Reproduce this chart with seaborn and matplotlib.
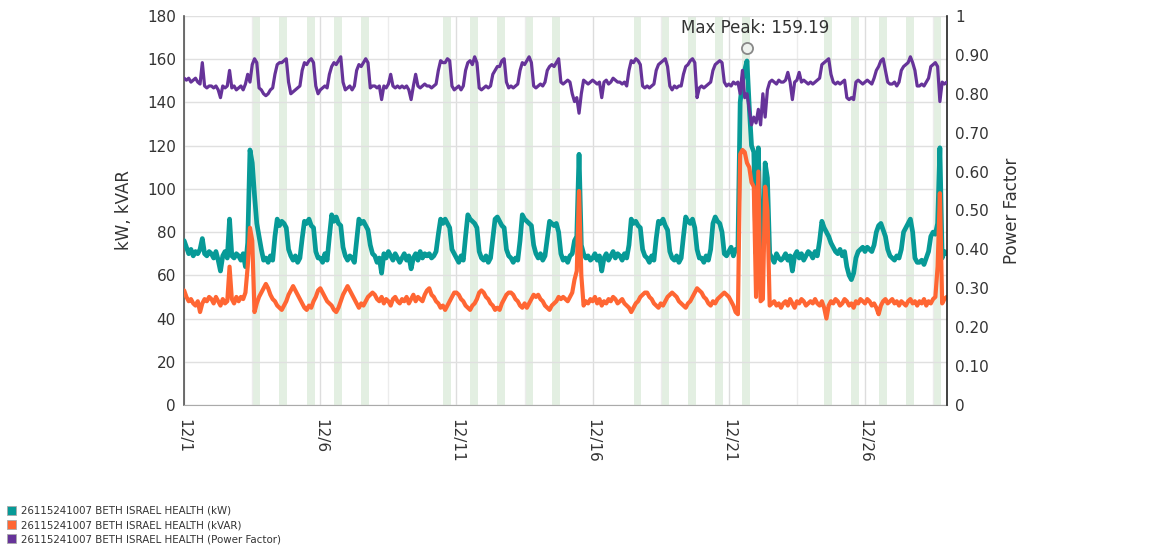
import numpy as np
import pandas as pd
import matplotlib
matplotlib.use('Agg')
import matplotlib.pyplot as plt
import matplotlib.dates as mdates
from matplotlib.patches import Patch
from matplotlib.transforms import offset_copy
import seaborn as sns

# 2-hourly readings, one row per day (12/1 .. 12/28) plus the closing value
kw = [
    76, 73, 70, 72, 69, 71, 70, 72, 77, 70, 69, 71,
    70, 68, 71, 67, 62, 69, 71, 68, 86, 69, 68, 70,
    69, 67, 70, 64, 75, 118, 112, 97, 84, 78, 72, 67,
    68, 66, 69, 67, 78, 86, 83, 85, 84, 82, 72, 69,
    67, 69, 66, 68, 77, 85, 84, 86, 83, 82, 71, 68,
    68, 66, 70, 67, 78, 88, 85, 87, 84, 83, 73, 69,
    67, 69, 68, 66, 76, 86, 84, 85, 83, 81, 74, 70,
    69, 66, 68, 61, 70, 68, 71, 69, 67, 70, 68, 66,
    68, 70, 67, 69, 63, 68, 70, 67, 71, 68, 70, 69,
    70, 68, 69, 71, 79, 86, 84, 86, 84, 82, 72, 70,
    68, 66, 69, 67, 78, 88, 86, 85, 84, 82, 71, 68,
    67, 69, 66, 68, 77, 86, 87, 85, 83, 82, 72, 69,
    68, 66, 68, 67, 76, 88, 86, 85, 84, 83, 74, 70,
    68, 70, 67, 69, 77, 85, 84, 83, 84, 80, 70, 67,
    68, 66, 69, 70, 76, 78, 116, 74, 70, 68, 69, 67,
    68, 70, 67, 69, 62, 68, 70, 67, 69, 71, 68, 70,
    69, 67, 70, 68, 74, 86, 84, 85, 83, 82, 72, 69,
    68, 66, 69, 67, 77, 85, 84, 86, 83, 81, 71, 68,
    67, 69, 66, 68, 78, 87, 85, 84, 86, 82, 72, 68,
    68, 66, 69, 67, 72, 84, 87, 85, 84, 80, 70, 69,
    71, 73, 69, 72, 72, 140, 150, 155, 159.19, 138, 120, 117,
    70, 119, 72, 71, 112, 105, 70, 68, 66, 70, 68, 67,
    68, 70, 67, 69, 62, 69, 71, 68, 70, 67, 69, 71,
    70, 68, 71, 69, 76, 85, 82, 80, 78, 75, 73, 71,
    70, 72, 69, 71, 64, 60, 58, 61, 68, 71, 72, 73,
    71, 73, 72, 71, 74, 80, 83, 84, 81, 78, 72, 69,
    68, 67, 69, 68, 72, 80, 82, 84, 86, 80, 68, 66,
    66, 67, 65, 68, 71, 78, 80, 79, 84, 119, 68, 71,
    70,
]

kvar = [
    53, 50, 48, 49, 47, 46, 48, 43, 47, 49, 48, 50,
    49, 47, 50, 48, 46, 49, 47, 48, 64, 49, 47, 50,
    48, 50, 49, 52, 64, 82, 76, 43, 47, 50, 52, 54,
    56, 54, 51, 49, 48, 46, 45, 44, 46, 48, 51, 53,
    55, 53, 51, 49, 47, 45, 44, 46, 45, 48, 50, 53,
    54, 52, 50, 48, 47, 46, 44, 43, 45, 48, 51, 53,
    55, 53, 51, 49, 47, 45, 47, 46, 48, 50, 51, 52,
    51, 49, 48, 50, 47, 49, 48, 46, 49, 50, 48, 47,
    49, 48, 50, 47, 49, 51, 48, 50, 49, 48, 51, 53,
    54, 51, 50, 48, 47, 45, 46, 44, 46, 48, 50, 52,
    52, 51, 49, 48, 46, 45, 44, 46, 47, 49, 52, 53,
    52, 50, 49, 47, 46, 44, 45, 44, 47, 49, 51, 52,
    52, 51, 49, 48, 46, 45, 47, 45, 47, 49, 51, 50,
    51, 49, 48, 46, 45, 44, 46, 47, 48, 50, 49, 50,
    49, 48, 50, 52, 58, 62, 99, 60, 46, 48, 47, 49,
    48, 50, 47, 49, 46, 48, 47, 49, 48, 50, 49, 47,
    48, 49, 47, 46, 45, 43, 45, 47, 48, 50, 51, 52,
    52, 50, 49, 47, 46, 45, 47, 46, 48, 50, 51, 52,
    51, 50, 48, 47, 46, 45, 47, 48, 50, 52, 54, 53,
    52, 50, 49, 47, 46, 48, 47, 49, 50, 51, 52, 51,
    50, 48, 46, 43, 42, 116, 118, 117, 112, 110, 103, 101,
    50, 108, 48, 49, 101, 90, 46, 47, 48, 46, 47, 45,
    47, 48, 46, 49, 47, 45, 48, 47, 49, 48, 46, 47,
    48, 47, 49, 47, 46, 48, 45, 40, 46, 48, 47, 49,
    48, 46, 47, 49, 48, 46, 47, 45, 48, 47, 49, 48,
    47, 49, 48, 46, 47, 45, 42, 46, 48, 49, 47, 48,
    49, 47, 48, 46, 48, 47, 46, 48, 49, 47, 48, 46,
    48, 47, 49, 46, 48, 47, 49, 50, 64, 98, 47, 49,
    50,
]

power_factor = [
    0.84, 0.835, 0.84, 0.83, 0.835, 0.84, 0.83, 0.825, 0.88, 0.82, 0.815, 0.82,
    0.82, 0.815, 0.82, 0.81, 0.79, 0.82, 0.815, 0.82, 0.86, 0.815, 0.82, 0.81,
    0.815, 0.82, 0.81, 0.825, 0.85, 0.83, 0.875, 0.89, 0.88, 0.815, 0.81, 0.80,
    0.795, 0.80, 0.81, 0.815, 0.85, 0.875, 0.88, 0.88, 0.885, 0.89, 0.83, 0.80,
    0.805, 0.81, 0.815, 0.82, 0.86, 0.88, 0.875, 0.885, 0.89, 0.88, 0.82, 0.80,
    0.81, 0.815, 0.82, 0.815, 0.85, 0.87, 0.88, 0.875, 0.885, 0.895, 0.83, 0.81,
    0.815, 0.82, 0.81, 0.82, 0.86, 0.875, 0.87, 0.88, 0.89, 0.88, 0.815, 0.82,
    0.82, 0.815, 0.82, 0.785, 0.82, 0.815, 0.825, 0.85, 0.82, 0.815, 0.82, 0.815,
    0.82, 0.815, 0.82, 0.81, 0.785, 0.82, 0.85, 0.82, 0.815, 0.82, 0.825, 0.82,
    0.82, 0.815, 0.82, 0.825, 0.86, 0.885, 0.88, 0.88, 0.89, 0.885, 0.82, 0.81,
    0.815, 0.82, 0.81, 0.82, 0.86, 0.88, 0.885, 0.875, 0.895, 0.88, 0.815, 0.81,
    0.815, 0.82, 0.815, 0.82, 0.85, 0.86, 0.87, 0.87, 0.885, 0.89, 0.83, 0.815,
    0.82, 0.815, 0.82, 0.825, 0.86, 0.88, 0.875, 0.885, 0.895, 0.88, 0.82, 0.815,
    0.82, 0.825, 0.82, 0.83, 0.86, 0.87, 0.875, 0.87, 0.88, 0.89, 0.83, 0.825,
    0.83, 0.835, 0.83, 0.80, 0.78, 0.79, 0.75, 0.80, 0.835, 0.83, 0.825, 0.83,
    0.835, 0.83, 0.825, 0.83, 0.79, 0.83, 0.835, 0.825, 0.83, 0.84, 0.835, 0.83,
    0.83, 0.825, 0.83, 0.82, 0.86, 0.885, 0.88, 0.89, 0.885, 0.875, 0.82, 0.815,
    0.82, 0.815, 0.82, 0.825, 0.86, 0.875, 0.88, 0.885, 0.89, 0.87, 0.82, 0.81,
    0.82, 0.815, 0.82, 0.82, 0.85, 0.87, 0.875, 0.885, 0.89, 0.88, 0.79, 0.815,
    0.82, 0.815, 0.82, 0.825, 0.83, 0.86, 0.875, 0.88, 0.885, 0.88, 0.83, 0.82,
    0.825, 0.82, 0.83, 0.825, 0.83, 0.80, 0.86, 0.79, 0.80, 0.76, 0.72, 0.74,
    0.725, 0.76, 0.72, 0.80, 0.74, 0.81, 0.83, 0.835, 0.83, 0.825, 0.835, 0.83,
    0.83, 0.835, 0.855, 0.83, 0.785, 0.83, 0.835, 0.855, 0.83, 0.835, 0.83, 0.825,
    0.83, 0.825, 0.83, 0.835, 0.84, 0.875, 0.88, 0.885, 0.89, 0.85, 0.83, 0.825,
    0.83, 0.825, 0.83, 0.835, 0.79, 0.785, 0.79, 0.785, 0.83, 0.835, 0.83, 0.825,
    0.83, 0.835, 0.83, 0.825, 0.84, 0.86, 0.87, 0.885, 0.89, 0.86, 0.83, 0.825,
    0.825, 0.83, 0.82, 0.83, 0.86, 0.87, 0.875, 0.88, 0.895, 0.88, 0.86, 0.82,
    0.82, 0.825, 0.82, 0.83, 0.84, 0.87, 0.875, 0.88, 0.87, 0.78, 0.83, 0.825,
    0.83,
]

# on-peak windows (12:00-19:00) on these days of December
peak_days = [3, 4, 5, 6, 7, 10, 11, 12, 13, 14, 17, 18, 19, 20, 21,
             24, 25, 26, 27, 28]

meter = '26115241007 BETH ISRAEL HEALTH'
series_names = [meter + ' (kW)', meter + ' (kVAR)', meter + ' (Power Factor)']
colors = ['#079a97', '#ff6633', '#663399']

times = pd.date_range('2024-12-01', periods=len(kw), freq='2h')
df = pd.DataFrame({'time': times, 'kW': kw, 'kVAR': kvar, 'PF': power_factor})

sns.set_style('white')
plt.rcParams['font.family'] = ['DejaVu Sans']
text_color = '#333333'

fig = plt.figure(figsize=(11.51, 5.56), dpi=100)
ax = fig.add_axes([0.16, 0.2716, 0.6625, 0.6997])
ax2 = ax.twinx()

# shaded peak periods
for d in peak_days:
    start = pd.Timestamp(2024, 12, d, 12)
    ax.axvspan(start, start + pd.Timedelta(hours=7), color='#e3efe2', lw=0, zorder=0)

sns.lineplot(data=df, x='time', y='kW', ax=ax, color=colors[0], linewidth=3.4, zorder=3)
sns.lineplot(data=df, x='time', y='kVAR', ax=ax, color=colors[1], linewidth=3.0, zorder=3)
sns.lineplot(data=df, x='time', y='PF', ax=ax2, color=colors[2], linewidth=2.3, zorder=3)

x0 = pd.Timestamp('2024-12-01')
x1 = pd.Timestamp('2024-12-29')
ax.set_xlim(x0, x1)
ax.set_ylim(0, 180)
ax2.set_ylim(0, 1)

ax.set_yticks(np.arange(0, 181, 20))
ax2.set_yticks(np.arange(0, 1.01, 0.1))
ax2.set_yticklabels(['0'] + ['%.2f' % v for v in np.arange(0.1, 0.95, 0.1)] + ['1'])

major = pd.date_range('2024-12-01', '2024-12-26', freq='5D')
minor = major + pd.Timedelta(hours=60)
ax.set_xticks(major)
ax.set_xticks(minor, minor=True)
ax.xaxis.set_major_formatter(mdates.DateFormatter('%-m/%-d'))
ax.tick_params(axis='x', which='major', rotation=-90, labelsize=11, colors='#999999',
               labelcolor=text_color, length=6, width=1, direction='out', pad=4)
ax.tick_params(axis='x', which='minor', length=0)
for lab in ax.get_xticklabels():
    lab.set_va('top')
    lab.set_ha('center')

ax.grid(True, axis='y', color='#e0e0e0', lw=1)
ax.grid(True, axis='x', which='major', color='#dddddd', lw=1)
ax.grid(True, axis='x', which='minor', color='#ececec', lw=1)
ax.set_axisbelow(True)

ax.tick_params(axis='y', labelsize=11, labelcolor=text_color, length=0, pad=6)
ax2.tick_params(axis='y', labelsize=11, labelcolor=text_color, length=0, pad=6)

ax.set_xlabel('')
ax.set_ylabel('kW, kVAR', fontsize=12, color=text_color, labelpad=10)
ax2.set_ylabel('Power Factor', fontsize=12, color=text_color, labelpad=10)

for a in (ax, ax2):
    a.spines['top'].set_visible(False)
    a.spines['left'].set_color('#555555')
    a.spines['bottom'].set_color('#aaaaaa')
    a.spines['right'].set_color('#222222')
    a.spines['left'].set_linewidth(1.2)
    a.spines['right'].set_linewidth(1.2)
ax.spines['right'].set_visible(False)
ax2.spines['left'].set_visible(False)
ax2.spines['bottom'].set_visible(False)

# max peak marker
i_peak = int(np.argmax(kw))
t_peak = times[i_peak]
v_peak = kw[i_peak]
mark_tr = offset_copy(ax.transData, fig=fig, y=13, units='dots')
ax.plot([t_peak], [v_peak], transform=mark_tr, marker='o', ms=8, mfc='#eef2ee',
        mec='#888888', mew=1.3, clip_on=False, zorder=5)
ax.annotate('Max Peak: %.2f' % v_peak, xy=(t_peak, v_peak), xytext=(6, 24),
            textcoords='offset points', ha='center', va='center', fontsize=12,
            color=text_color, annotation_clip=False)

handles = [Patch(facecolor=c, edgecolor='#aaaaaa', linewidth=0.6) for c in colors]
fig.legend(handles, series_names, loc='upper left', bbox_to_anchor=(0.0, 0.103),
           frameon=False, fontsize=7.4, handlelength=0.9, handleheight=0.9,
           handletextpad=0.4, labelspacing=0.4, borderaxespad=0.3,
           labelcolor=text_color)

fig.savefig('out.png', dpi=100)
